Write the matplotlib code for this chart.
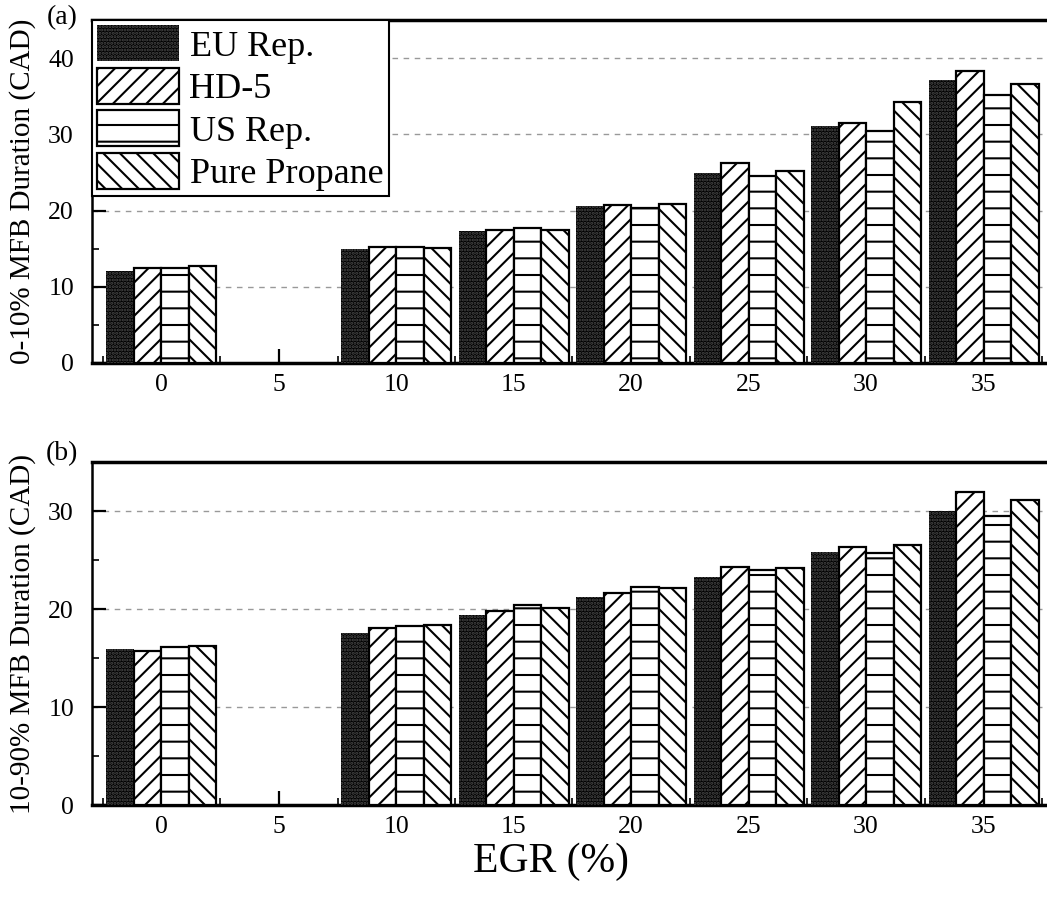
import matplotlib
matplotlib.use("Agg")
import matplotlib.pyplot as plt
from matplotlib.ticker import MultipleLocator
import numpy as np

# EGR levels (%) that have data
egr = [0, 10, 15, 20, 25, 30, 35]
fuels = ["EU Rep.", "HD-5", "US Rep.", "Pure Propane"]

# (a) 0-10% MFB duration (CAD)
mfb_0_10 = {
    "EU Rep.":      [12.1, 15.0, 17.3, 20.6, 24.9, 31.1, 37.1],
    "HD-5":         [12.4, 15.2, 17.4, 20.7, 26.2, 31.5, 38.3],
    "US Rep.":      [12.5, 15.2, 17.7, 20.35, 24.55, 30.5, 35.2],
    "Pure Propane": [12.7, 15.1, 17.4, 20.8, 25.2, 34.2, 36.65],
}
# (b) 10-90% MFB duration (CAD)
mfb_10_90 = {
    "EU Rep.":      [15.9, 17.6, 19.4, 21.25, 23.3, 25.8, 30.0],
    "HD-5":         [15.7, 18.1, 19.8, 21.6, 24.25, 26.3, 31.9],
    "US Rep.":      [16.1, 18.3, 20.4, 22.2, 24.0, 25.7, 29.5],
    "Pure Propane": [16.2, 18.4, 20.1, 22.15, 24.2, 26.5, 31.1],
}

plt.rcParams['font.family'] = ['Liberation Serif', 'DejaVu Serif']
plt.rcParams['hatch.linewidth'] = 1.5
plt.rcParams['hatch.color'] = '#4a4a4a'

styles = {
    "EU Rep.":      dict(facecolor='black', hatch='.....', linewidth=0),
    "HD-5":         dict(facecolor='white', edgecolor='black', hatch='//', linewidth=1.6),
    "US Rep.":      dict(facecolor='white', edgecolor='black', hatch='-', linewidth=1.6),
    "Pure Propane": dict(facecolor='white', edgecolor='black', hatch='\\\\', linewidth=1.6),
}

W, H = 1047, 907
fig = plt.figure(figsize=(W / 100, H / 100), dpi=100)
ax_a = fig.add_axes([92 / W, 1 - 363 / H, 1 - 92 / W, (363 - 20) / H])
ax_b = fig.add_axes([92 / W, 1 - 805 / H, 1 - 92 / W, (805 - 462) / H])

bw = 1.17
x = np.array(egr, dtype=float)


def draw_panel(ax, data, ymax, ylabel):
    for i, f in enumerate(fuels):
        ax.bar(x + (i - 1.5) * bw, data[f], width=bw, label=f, zorder=3, **styles[f])
    ax.set_xlim(-2.95, 37.7)
    ax.set_ylim(0, ymax)
    ax.xaxis.set_major_locator(MultipleLocator(5))
    ax.xaxis.set_minor_locator(MultipleLocator(5, offset=2.5))
    ax.yaxis.set_major_locator(MultipleLocator(10))
    ax.yaxis.set_minor_locator(MultipleLocator(5))
    ax.tick_params(which='major', direction='in', length=10, width=1.6, labelsize=18.5)
    ax.tick_params(which='minor', direction='in', length=5, width=1.2)
    ax.tick_params(axis='x', which='major', pad=8)
    ax.tick_params(axis='y', which='major', pad=13)
    ax.grid(axis='y', which='major', color='#999999', linestyle=(0, (4, 4)), linewidth=1, zorder=0)
    ax.set_axisbelow(True)
    ax.spines['right'].set_visible(False)
    ax.spines['top'].set_linewidth(2.5)
    ax.spines['bottom'].set_linewidth(2.5)
    ax.spines['left'].set_linewidth(1.8)
    ax.set_ylabel(ylabel, fontsize=21)
    ax.yaxis.set_label_coords(-56 / 955, 0.5)


draw_panel(ax_a, mfb_0_10, 45, "0-10% MFB Duration (CAD)")
draw_panel(ax_b, mfb_10_90, 35, "10-90% MFB Duration (CAD)")

leg = ax_a.legend(loc='upper left', fontsize=26, frameon=True, fancybox=False,
                  edgecolor='black', framealpha=1, borderaxespad=0, borderpad=0.15,
                  handlelength=2.25, handleheight=1.15, handletextpad=0.3,
                  labelspacing=0.12)
leg.get_frame().set_linewidth(1.5)
leg.set_zorder(5)

fig.text(62 / W, 1 - 18 / H, "(a)", fontsize=20, va='center', ha='center')
fig.text(62 / W, 1 - 454 / H, "(b)", fontsize=20, va='center', ha='center')
fig.text(551 / W, 1 - 862 / H, "EGR (%)", fontsize=30, va='center', ha='center')

fig.savefig("out.png", dpi=100)
